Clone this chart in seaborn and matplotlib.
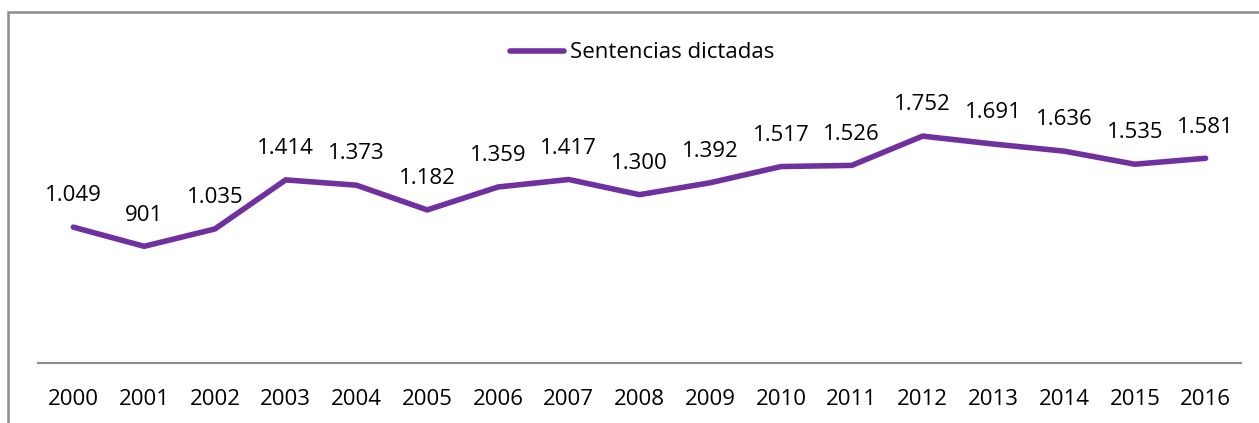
import matplotlib
matplotlib.use("Agg")
import matplotlib.pyplot as plt
import seaborn as sns
import pandas as pd
from matplotlib.patches import Rectangle

years = ["2000", "2001", "2002", "2003", "2004", "2005", "2006", "2007", "2008",
         "2009", "2010", "2011", "2012", "2013", "2014", "2015", "2016"]
sentencias = [1049, 901, 1035, 1414, 1373, 1182, 1359, 1417, 1300,
              1392, 1517, 1526, 1752, 1691, 1636, 1535, 1581]
series_name = "Sentencias dictadas"

sns.set_style("white")
plt.rcParams['font.family'] = ['Open Sans', 'DejaVu Sans']
plt.rcParams['text.color'] = '#000000'

W, H = 1259, 423
fig = plt.figure(figsize=(W / 100, H / 100), dpi=100)
ax = fig.add_axes([38 / W, 60 / H, (1241 - 38) / W, (363 - 104) / H])

df = pd.DataFrame({"idx": range(len(years)), "year": years, "value": sentencias})
color = "#7030A0"
sns.lineplot(data=df, x="idx", y="value", ax=ax, color=color, linewidth=4.0,
             label=series_name, legend=False, solid_capstyle="round")

def fmt(v):
    return f"{v:,}".replace(",", ".")

for i, v in zip(df["idx"], df["value"]):
    ax.annotate(fmt(v), (i, v), xytext=(0, 22.5), textcoords="offset points",
                ha="center", va="center", fontsize=16, color="#000000")

ax.set_xlim(-0.5, len(years) - 0.5)
ax.set_ylim(0, 2000)
ax.set_xticks(range(len(years)))
ax.set_xticklabels(years, fontsize=16, color="#000000")
ax.set_yticks([])
ax.set_xlabel("")
ax.set_ylabel("")
ax.tick_params(axis="x", length=0, pad=19)
for s in ["top", "right", "left"]:
    ax.spines[s].set_visible(False)
ax.spines["bottom"].set_color("#8c8c8c")
ax.spines["bottom"].set_linewidth(1.5)

handles, labels = ax.get_legend_handles_labels()
leg = fig.legend(handles, labels, loc="center", bbox_to_anchor=(642 / W, 1 - 53 / H),
                 frameon=False, fontsize=16, handlelength=2.45, handletextpad=0.25)
for t in leg.get_texts():
    t.set_color("#000000")

# outer chart border (top and left visible)
fig.patches.append(Rectangle((8 / W, -0.05), 1.2, 1 - 12 / H + 0.05,
                             transform=fig.transFigure, fill=False,
                             edgecolor="#8c8c8c", linewidth=1.8))

fig.savefig("out.png", dpi=100)
